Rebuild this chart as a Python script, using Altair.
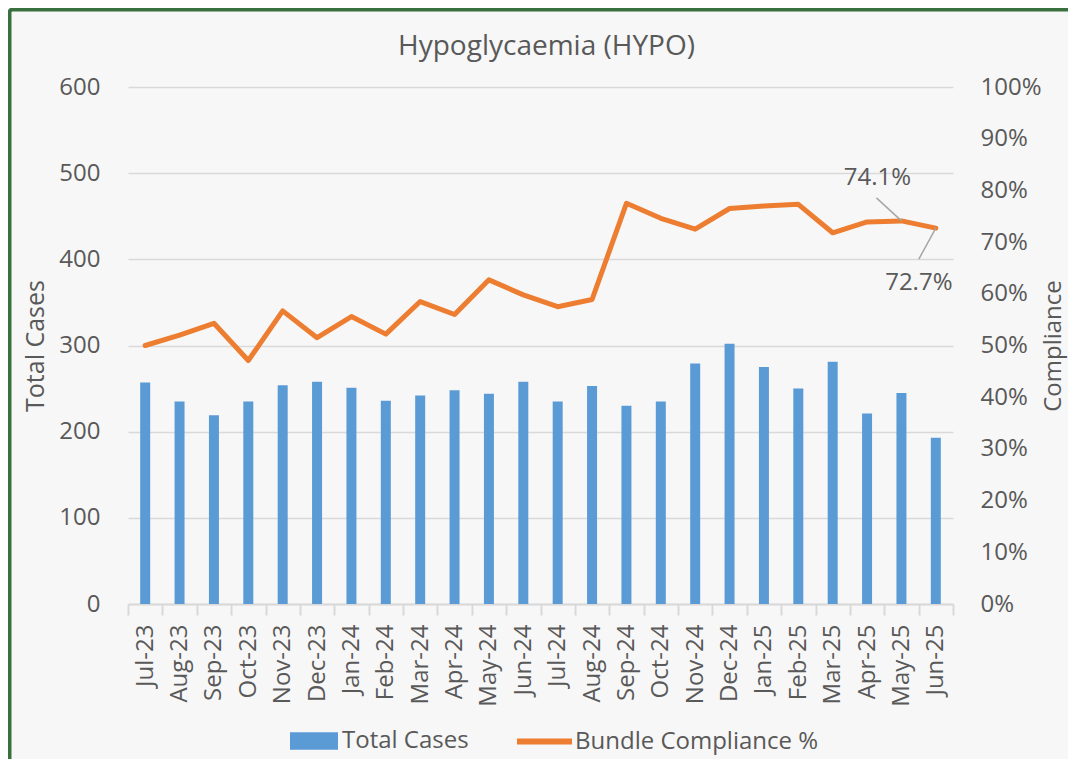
import altair as alt
import pandas as pd

months = ["Jul-23", "Aug-23", "Sep-23", "Oct-23", "Nov-23", "Dec-23",
          "Jan-24", "Feb-24", "Mar-24", "Apr-24", "May-24", "Jun-24",
          "Jul-24", "Aug-24", "Sep-24", "Oct-24", "Nov-24", "Dec-24",
          "Jan-25", "Feb-25", "Mar-25", "Apr-25", "May-25", "Jun-25"]
total_cases = [257, 235, 219, 235, 254, 258, 251, 236, 242, 248, 244, 258,
               235, 253, 230, 235, 279, 302, 275, 250, 281, 221, 245, 193]
compliance = [50.0, 52.0, 54.3, 47.1, 56.7, 51.5, 55.6, 52.2, 58.5, 56.0, 62.7, 59.8,
              57.5, 58.9, 77.5, 74.6, 72.5, 76.5, 77.0, 77.3, 71.8, 73.9, 74.1, 72.7]

FONT = "Open Sans"
TXT = "#595959"
GRID = "#d9d9d9"
BLUE = "#5b9bd5"
ORANGE = "#ed7d31"

df = pd.DataFrame({"Month": months, "Total": total_cases, "Compliance": compliance})
base = alt.Chart(df)

x_enc = alt.X(
    "Month:N", sort=months, title=None,
    scale=alt.Scale(paddingInner=0, paddingOuter=0),
    axis=alt.Axis(labelAngle=-90, labelFontSize=24, labelColor=TXT, labelFont=FONT,
                  labelPadding=9, tickBand="extent", ticks=True, tickSize=11,
                  tickColor=GRID, tickWidth=2, domainColor=GRID, domainWidth=2,
                  grid=False),
)

bars = base.transform_calculate(series="'Total Cases'").mark_bar(size=10).encode(
    x=x_enc,
    y=alt.Y("Total:Q", title="Total Cases",
            scale=alt.Scale(domain=[0, 600], nice=False),
            axis=alt.Axis(values=[0, 100, 200, 300, 400, 500, 600], labelFontSize=24,
                          labelColor=TXT, labelFont=FONT, labelPadding=28,
                          ticks=False, domain=False, grid=True, gridColor=GRID,
                          gridWidth=1.5, titleFontSize=25, titleFont=FONT,
                          titleFontWeight="normal", titleColor=TXT, titlePadding=10)),
    fill=alt.Fill("series:N", scale=alt.Scale(domain=["Total Cases"], range=[BLUE]),
                  legend=alt.Legend(title=None, orient="none", legendX=162, legendY=630,
                                    symbolType="M-1,-0.36H1V0.36H-1Z", symbolSize=2304,
                                    symbolStrokeWidth=0, labelFontSize=24, labelFont=FONT,
                                    labelColor=TXT, labelOffset=4, labelLimit=400)),
)

y_right = alt.Y("Compliance:Q", title="Compliance",
                scale=alt.Scale(domain=[0, 100], nice=False),
                axis=alt.Axis(orient="right", values=list(range(0, 101, 10)),
                              labelExpr="datum.value + '%'", labelFontSize=24,
                              labelColor=TXT, labelFont=FONT, labelPadding=27,
                              ticks=False, domain=False, grid=False,
                              titleFontSize=24, titleFont=FONT, titleFontWeight="normal",
                              titleColor=TXT, titleAngle=-90, titleBaseline="top",
                              titlePadding=0))

line = base.transform_calculate(series2="'Bundle Compliance %'").mark_line(
    strokeWidth=5, strokeJoin="round", strokeCap="round").encode(
    x=alt.X("Month:N", sort=months),
    y=y_right,
    stroke=alt.Stroke("series2:N",
                      scale=alt.Scale(domain=["Bundle Compliance %"], range=[ORANGE]),
                      legend=alt.Legend(title=None, orient="none", legendX=386, legendY=624,
                                        symbolType="stroke", symbolSize=3025,
                                        symbolStrokeWidth=6, labelFontSize=24,
                                        labelFont=FONT, labelColor=TXT, labelOffset=0,
                                        labelLimit=400)),
)

lab = base.transform_calculate(label="format(datum.Compliance, '.1f') + '%'")

def leader(month, x2off, y2off):
    return lab.transform_filter(alt.datum.Month == month).mark_rule(
        color="#a6a6a6", strokeWidth=1.5, x2Offset=x2off, y2Offset=y2off).encode(
        x=alt.X("Month:N", sort=months, bandPosition=0.5),
        x2=alt.X2("Month", bandPosition=0.5),
        y=alt.Y("Compliance:Q"),
        y2=alt.Y2("Compliance"),
    )

def label(month, dx, dy):
    return lab.transform_filter(alt.datum.Month == month).mark_text(
        fontSize=24, font=FONT, color=TXT, dx=dx, dy=dy, baseline="middle",
        align="center").encode(
        x=alt.X("Month:N", sort=months),
        y=alt.Y("Compliance:Q"),
        text="label:N",
    )

right_layer = alt.layer(
    line,
    leader("May-25", -25, -23),
    leader("Jun-25", -17, 31),
    label("May-25", -24, -43),
    label("Jun-25", -17, 55),
)

frame = alt.Chart(pd.DataFrame({"k": [0]})).mark_rect(
    fill=None, stroke="#38703e", strokeWidth=4, cornerRadius=3).encode(
    x=alt.value(-118.5), x2=alt.value(1000), y=alt.value(-77.5), y2=alt.value(720))

chart = alt.layer(bars, right_layer, frame).resolve_scale(
    y="independent", fill="independent", stroke="independent"
).properties(
    width=825, height=517,
    padding={"left": 120, "top": 79, "right": 115, "bottom": 155},
    autosize=alt.AutoSizeParams(type="none"),
    background="#f7f7f7",
    title=alt.TitleParams("Hypoglycaemia (HYPO)", fontSize=28, font=FONT, color=TXT,
                          fontWeight="normal", anchor="middle", frame="group",
                          dx=6, baseline="alphabetic", offset=-75.5),
).configure_view(stroke=None)

chart.save("out.html", embed_options={"renderer": "svg", "actions": False})
